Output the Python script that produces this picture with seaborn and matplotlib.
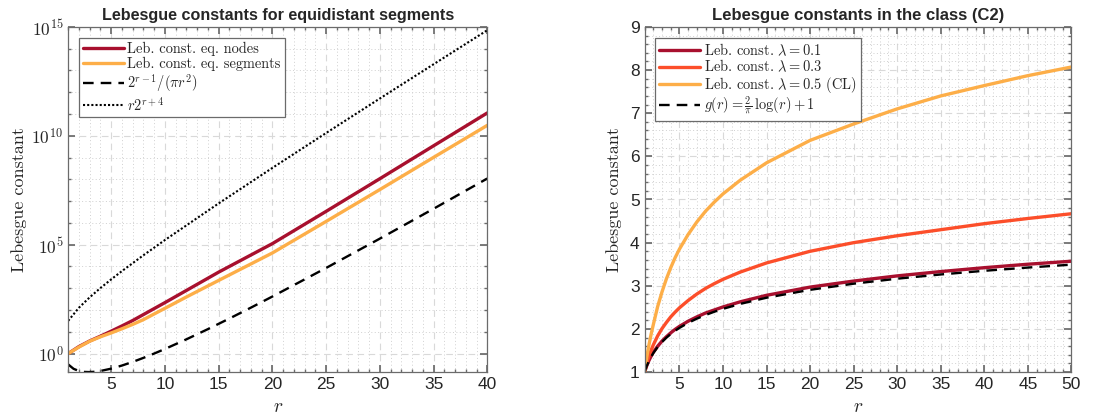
import math
import matplotlib
matplotlib.use("Agg")
import matplotlib.pyplot as plt
import seaborn as sns
from matplotlib.font_manager import FontProperties
from matplotlib.ticker import FixedLocator, FuncFormatter, MultipleLocator, NullFormatter

# ---------------- data ----------------
# Left panel: equidistant nodes / segments
r_left = [1, 2, 3, 4, 5, 6, 7, 8, 10, 12, 15, 20, 25, 30, 35, 40]
leb_eq_nodes = [1.0, 2.1, 3.8, 6.3, 10.7, 18.6, 33.0, 62.0, 219.0, 794.0,
                5.5e3, 1.12e5, 3.39e6, 1.07e8, 3.47e9, 1.12e11]
leb_eq_segments = [1.0, 2.0, 3.7, 5.9, 8.9, 13.8, 21.9, 36.3, 120.0, 398.0,
                   2.29e3, 4.17e4, 1.17e6, 3.39e7, 1.02e9, 3.02e10]

r_lower = [1, 1.5, 2, 2.5, 3, 3.5, 4, 5, 6, 7, 8, 9, 10, 12, 14, 16, 18, 20,
           25, 30, 35, 40]
bound_lower = [0.3183, 0.2001, 0.1592, 0.1441, 0.1415, 0.1470, 0.1592, 0.2037,
               0.2829, 0.4158, 0.6366, 1.006, 1.630, 4.527, 13.30, 40.74,
               128.8, 417.2, 8545.0, 1.899e5, 4.465e6, 1.094e8]

r_upper = [1, 2, 3, 4, 5, 6, 8, 10, 15, 20, 25, 30, 35, 40]
bound_upper = [32.0, 128.0, 384.0, 1024.0, 2560.0, 6144.0, 32768.0, 163840.0,
               7.864e6, 3.355e8, 1.342e10, 5.154e11, 1.924e13, 7.037e14]

# Right panel: class (C2)
r_right = [1, 1.1, 1.25, 1.5, 1.75, 2, 2.5, 3, 3.5, 4, 4.5, 5, 6, 7, 8, 9, 10,
           12, 15, 20, 25, 30, 35, 40, 45, 50]
leb_lam01 = [1.00, 1.06, 1.15, 1.27, 1.37, 1.46, 1.60, 1.72, 1.82, 1.91, 1.99,
             2.06, 2.18, 2.28, 2.37, 2.44, 2.51, 2.63, 2.78, 2.97, 3.11, 3.23,
             3.33, 3.42, 3.50, 3.57]
leb_lam03 = [1.00, 1.09, 1.20, 1.37, 1.51, 1.63, 1.84, 2.01, 2.15, 2.28, 2.39,
             2.49, 2.66, 2.81, 2.94, 3.05, 3.15, 3.32, 3.53, 3.80, 4.00, 4.16,
             4.30, 4.44, 4.56, 4.67]
leb_lam05 = [1.00, 1.15, 1.35, 1.63, 1.88, 2.10, 2.52, 2.86, 3.16, 3.42, 3.65,
             3.85, 4.19, 4.48, 4.73, 4.94, 5.13, 5.45, 5.85, 6.37, 6.75, 7.10,
             7.40, 7.64, 7.87, 8.07]
g_vals = [1.000, 1.061, 1.142, 1.258, 1.356, 1.441, 1.583, 1.699, 1.798, 1.883,
          1.958, 2.025, 2.141, 2.239, 2.324, 2.399, 2.466, 2.582, 2.724, 2.907,
          3.049, 3.165, 3.263, 3.348, 3.423, 3.490]

left_ticks = [1, 1e5, 1e10, 1e15]
left_xticks = [5, 10, 15, 20, 25, 30, 35, 40]
right_xticks = [5, 10, 15, 20, 25, 30, 35, 40, 45, 50]
right_yticks = [1, 2, 3, 4, 5, 6, 7, 8, 9]

# ---------------- style ----------------
sns.set_theme(style="ticks")
plt.rcParams["font.family"] = ["Liberation Sans", "DejaVu Sans"]
plt.rcParams["mathtext.fontset"] = "cm"

C_DARK = "#A8102E"
C_MID = "#FC4E2A"
C_LIGHT = "#FDAE48"
FRAME = "#6b6b6b"
TICKC = "#262626"
SERIF = "cmr10"

fig = plt.figure(figsize=(11, 4.2), dpi=100)
axL = fig.add_axes([0.062, 0.114, 0.381, 0.822])
axR = fig.add_axes([0.586, 0.114, 0.388, 0.822])


def style_axes(ax):
    for s in ax.spines.values():
        s.set_color(FRAME)
        s.set_linewidth(0.9)
    ax.tick_params(which="both", direction="in", top=True, right=True,
                   colors=FRAME, labelcolor=TICKC, labelsize=12.5)
    ax.tick_params(which="major", length=5)
    ax.tick_params(which="minor", length=2.5)
    ax.grid(True, which="major", linestyle=(0, (6, 4)), color="#d9d9d9", linewidth=0.8)
    ax.grid(True, which="minor", linestyle=(0, (1, 2.5)), color="#d0d0d0", linewidth=0.7)
    ax.set_axisbelow(True)


def leg_kw(spacing):
    return dict(loc="upper left", prop=FontProperties(family=SERIF, size=10.4),
                frameon=True, fancybox=False, framealpha=1, edgecolor=FRAME,
                handlelength=2.8, handletextpad=0.25, borderpad=0.28,
                labelspacing=spacing, borderaxespad=0.75)


# ---------------- left panel ----------------
sns.lineplot(x=r_left, y=leb_eq_nodes, ax=axL, color=C_DARK, lw=2.4,
             label="Leb. const. eq. nodes")
sns.lineplot(x=r_left, y=leb_eq_segments, ax=axL, color=C_LIGHT, lw=2.4,
             label="Leb. const. eq. segments")
sns.lineplot(x=r_lower, y=bound_lower, ax=axL, color="black", lw=1.7,
             linestyle=(0, (4.5, 3)), label=r"$2^{r-1}/(\pi r^2)$")
sns.lineplot(x=r_upper, y=bound_upper, ax=axL, color="black", lw=1.5,
             linestyle=(0, (1, 1)), label=r"$r2^{r+4}$")
axL.set_yscale("log")
axL.set_xlim(1, 40)
axL.set_ylim(0.1412, 1e15)
axL.yaxis.set_major_locator(FixedLocator(left_ticks))
axL.yaxis.set_major_formatter(FuncFormatter(
    lambda v, p: r"$\mathsf{10^{%d}}$" % round(math.log10(v))))
axL.yaxis.set_minor_locator(FixedLocator([10.0 ** k for k in range(0, 16)]))
axL.yaxis.set_minor_formatter(NullFormatter())
axL.xaxis.set_major_locator(FixedLocator(left_xticks))
axL.xaxis.set_minor_locator(MultipleLocator(1))
style_axes(axL)
axL.set_title("Lebesgue constants for equidistant segments", fontsize=11.6,
              fontweight="bold", pad=5)
axL.set_xlabel(r"$r$", fontsize=14, labelpad=5)
axL.set_ylabel("Lebesgue constant", family=SERIF, fontsize=13, labelpad=3)
legL = axL.legend(**leg_kw(0.08))
legL.get_frame().set_linewidth(0.9)

# ---------------- right panel ----------------
sns.lineplot(x=r_right, y=leb_lam01, ax=axR, color=C_DARK, lw=2.4,
             label=r"Leb. const. $\lambda=0.1$")
sns.lineplot(x=r_right, y=leb_lam03, ax=axR, color=C_MID, lw=2.4,
             label=r"Leb. const. $\lambda=0.3$")
sns.lineplot(x=r_right, y=leb_lam05, ax=axR, color=C_LIGHT, lw=2.4,
             label=r"Leb. const. $\lambda=0.5$ (CL)")
sns.lineplot(x=r_right, y=g_vals, ax=axR, color="black", lw=1.7,
             linestyle=(0, (4.5, 3)), label=r"$g(r)=\frac{2}{\pi}\,\log(r)+1$")
axR.set_xlim(1, 50)
axR.set_ylim(1, 9)
axR.xaxis.set_major_locator(FixedLocator(right_xticks))
axR.xaxis.set_minor_locator(MultipleLocator(1))
axR.yaxis.set_major_locator(FixedLocator(right_yticks))
axR.yaxis.set_minor_locator(MultipleLocator(0.2))
style_axes(axR)
axR.set_title("Lebesgue constants in the class (C2)", fontsize=12,
              fontweight="bold", pad=5)
axR.set_xlabel(r"$r$", fontsize=14, labelpad=5)
axR.set_ylabel("Lebesgue constant", family=SERIF, fontsize=13, labelpad=6)
legR = axR.legend(**leg_kw(0.0))
legR.get_frame().set_linewidth(0.9)

fig.savefig("out.png", dpi=100)
